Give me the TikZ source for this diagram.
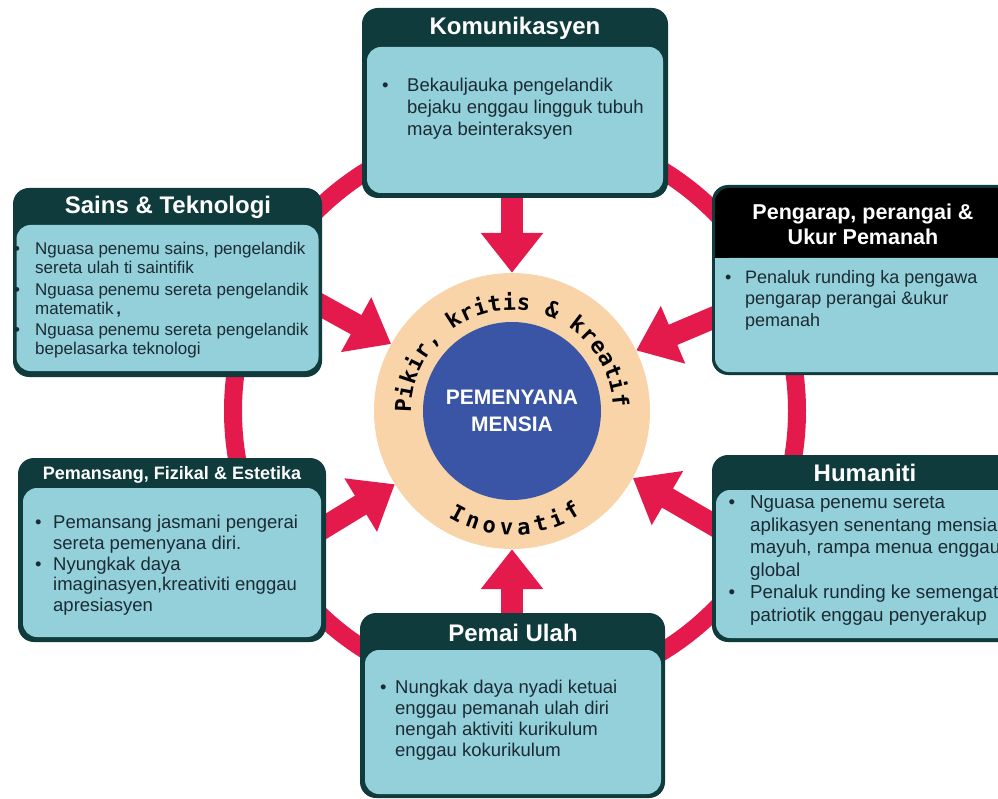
\documentclass[tikz,border=0pt]{standalone}
\usepackage{fontspec}
\setmainfont{Liberation Sans}
\newfontfamily\arcfam{DejaVu Sans Mono}
\usetikzlibrary{arrows.meta,calc,decorations.text}
\definecolor{hdr}{RGB}{15,59,61}
\definecolor{lite}{RGB}{147,208,218}
\definecolor{txt}{RGB}{28,43,51}
\definecolor{redc}{RGB}{229,26,76}
\definecolor{peach}{RGB}{248,212,168}
\definecolor{bluec}{RGB}{58,85,165}
\newlength\bw
\newcommand\myb{\makebox[\bw][l]{\textbullet}}
\newcommand\myi{\hspace*{\bw}}
\newcommand\arcfont{\arcfam\bfseries\fontsize{22}{22}\selectfont}
\pgfdeclarelayer{bg}
\pgfsetlayers{bg,main}
\begin{document}
\begin{tikzpicture}[x=1pt,y=-1pt,
  outerbox/.style={fill=hdr, rounded corners=16pt, inner sep=0pt, draw=none},
  innerbox/.style={fill=lite, rounded corners=14pt, inner sep=0pt, draw=none},
  hdrtext/.style={text=white, inner sep=0pt, font=\bfseries\fontsize{24}{26}\selectfont},
  bodytext/.style={text=txt, align=left, inner sep=0pt, anchor=north west},
  bwid/.code={\global\bw=#1},
  bigarrow/.style={draw=redc, line width=22pt, -{Triangle[width=60pt,length=40pt]}},
  redring/.style={draw=redc, line width=18pt}]
\useasboundingbox (0,0) rectangle (998,799);
\clip (0,0) rectangle (998,799);

% centre
\node[circle, fill=peach, minimum size=276pt, inner sep=0pt] (ring) at (512,411) {};
\node[circle, fill=bluec, minimum size=178pt, inner sep=0pt, text=white,
      font=\bfseries\fontsize{21}{27}\selectfont, align=center] (core) at (512,411) {PEMENYANA\\MENSIA};
\begin{scope}[shift={(ring.center)}, x=1pt, y=1pt]
  \path[decorate, decoration={text along path, text align={fit to path},
        text={|\arcfont|Pikir, kritis {\&} kreatif}}]
        (181:101) arc[start angle=181, end angle=2, radius=101];
  \path[decorate, decoration={text along path, text align={fit to path},
        text={|\arcfont|Inovatif}}]
        (239:124) arc[start angle=239, end angle=304, radius=124];
\end{scope}

% Komunikasyen
\node[outerbox, minimum width=306pt, minimum height=190pt] (kom) at (515,103) {};
\node[innerbox, minimum width=296pt, minimum height=146pt] (komin) at (515,120) {};
\node[hdrtext] (komh) at (515,28) {Komunikasyen};
\node[bodytext, bwid=25pt, font=\fontsize{18.5}{21.7}\selectfont] (komb) at (382,78)
  {\myb Bekauljauka pengelandik\\\myi bejaku enggau lingguk tubuh\\\myi maya beinteraksyen};

% Sains & Teknologi
\node[outerbox, minimum width=309pt, minimum height=189pt] (sains) at (167.5,282.5) {};
\node[innerbox, minimum width=302pt, minimum height=146pt] (sainsin) at (167.5,298) {};
\node[hdrtext] (sainsh) at (168,207) {Sains \& Teknologi};
\node[bodytext, bwid=21pt, font=\fontsize{17}{19}\selectfont] (sainsb) at (14,242)
  {\myb Nguasa penemu sains, pengelandik\\\myi sereta ulah ti saintifik\\[2.5pt]
   \myb Nguasa penemu sereta pengelandik\\\myi matematik\,\textbf{,}\\[2.5pt]
   \myb Nguasa penemu sereta pengelandik\\\myi bepelasarka teknologi};

% Pengarap
\node[outerbox, minimum width=302pt, minimum height=190pt] (pga) at (863,280) {};
\fill[black, rounded corners=14pt] (715,188) rectangle (1011,275);
\node[innerbox, minimum width=296pt, minimum height=114pt] (pgain) at (863,315) {};
\fill[lite] (715,258) rectangle (1011,290);
\node[hdrtext, align=center, font=\bfseries\fontsize{21.5}{25}\selectfont] (pgah) at (863,224.5)
  {Pengarap, perangai \&\\Ukur Pemanah};
\node[bodytext, bwid=20pt, font=\fontsize{18}{21.5}\selectfont] (pgab) at (725,270)
  {\myb Penaluk runding ka pengawa\\\myi pengarap perangai \&ukur\\\myi pemanah};

% Pemansang
\node[outerbox, minimum width=308pt, minimum height=184pt] (pem) at (172,550) {};
\node[innerbox, minimum width=298pt, minimum height=149pt] (pemin) at (172,562.5) {};
\node[hdrtext, font=\bfseries\fontsize{18}{20}\selectfont] (pemh) at (172,475) {Pemansang, Fizikal \& Estetika};
\node[bodytext, bwid=18pt, font=\fontsize{18.5}{20.7}\selectfont] (pemb) at (35,515)
  {\myb Pemansang jasmani pengerai\\\myi sereta pemenyana diri.\\\myb Nyungkak daya\\
   \myi imaginasyen,kreativiti enggau\\\myi apresiasyen};

% Humaniti
\node[outerbox, minimum width=306pt, minimum height=187pt] (hum) at (865,548.5) {};
\node[innerbox, minimum width=298pt, minimum height=148pt] (humin) at (865,564) {};
\node[hdrtext] (humh) at (865,473) {Humaniti};
\node[bodytext, bwid=21.5pt, font=\fontsize{18.75}{22.5}\selectfont] (humb) at (728.5,495.5)
  {\myb Nguasa penemu sereta\\\myi aplikasyen senentang mensia\\\myi mayuh, rampa menua enggau\\
   \myi global\\\myb Penaluk runding ke semengat\\\myi patriotik enggau penyerakup};

% Pemai Ulah
\node[outerbox, minimum width=305pt, minimum height=185pt] (pemai) at (512.5,705.5) {};
\node[innerbox, minimum width=296pt, minimum height=144pt] (pemaiin) at (513,722) {};
\node[hdrtext] (pemaih) at (513,633) {Pemai Ulah};
\node[bodytext, bwid=15pt, font=\fontsize{18.5}{21}\selectfont] (pemaib) at (380,680)
  {\myb Nungkak daya nyadi ketuai\\\myi enggau pemanah ulah diri\\\myi nengah aktiviti kurikulum\\\myi enggau kokurikulum};

\begin{pgfonlayer}{bg}
  \draw[redring] ([xshift=3pt]ring.center) circle[radius=282pt];
  \draw[bigarrow] ([yshift=8pt]kom.south -| ring.north) -- (ring.north);
  \draw[bigarrow] ([yshift=-8pt]pemai.north -| ring.south) -- (ring.south);
  \draw[bigarrow] ($(sains.east)+(-8,19)$) -- (ring.151);
  \draw[bigarrow] ($(pga.west)+(8,35)$) -- (ring.26);
  \draw[bigarrow] ($(pem.east)+(-8,-19)$) -- (ring.212);
  \draw[bigarrow] ($(hum.west)+(8,-20)$) -- (ring.331);
\end{pgfonlayer}
\end{tikzpicture}
\end{document}
